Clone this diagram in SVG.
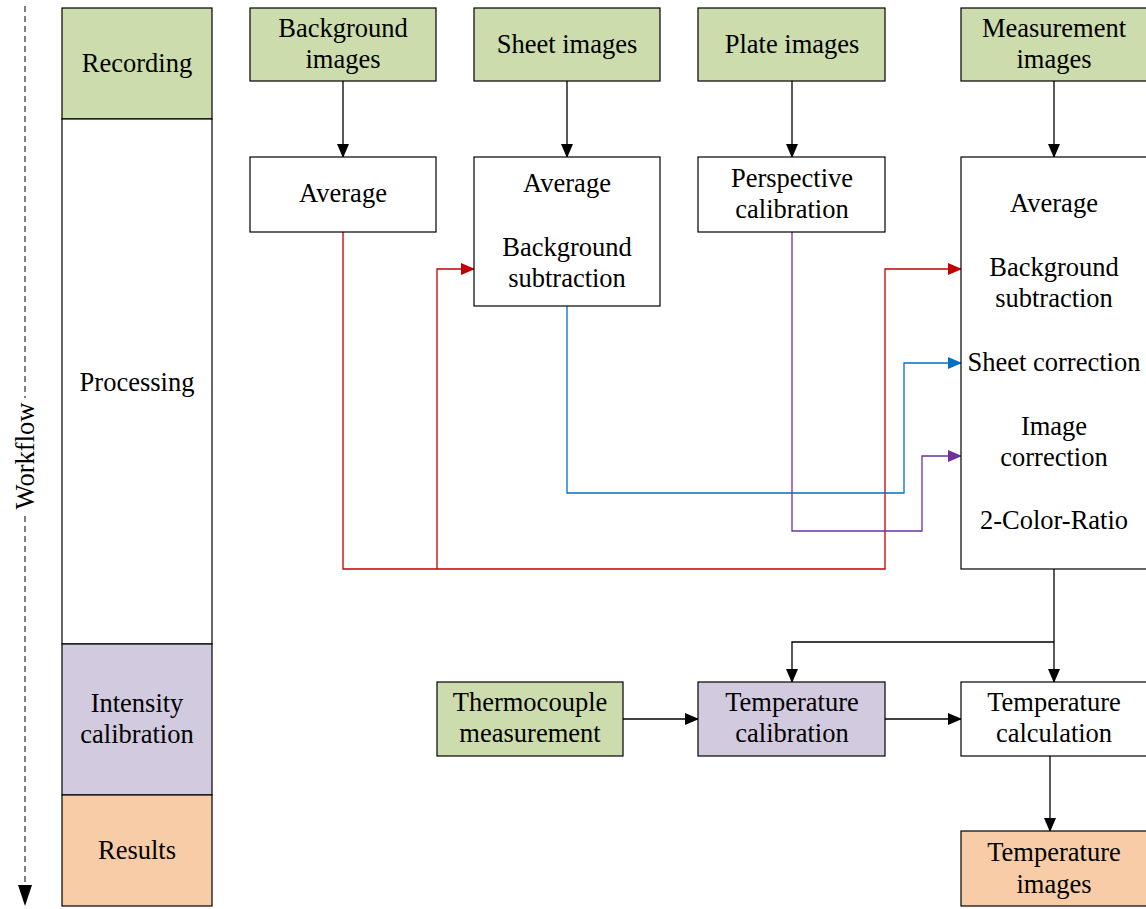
<svg xmlns="http://www.w3.org/2000/svg" width="1146" height="909" viewBox="0 0 1146 909">
<style>
.b{stroke:#000;stroke-width:1.2}
.g{fill:#CCDCAC}.w{fill:#fff}.p{fill:#D2CADF}.o{fill:#F8CCA7}
text{font-family:"Liberation Serif","Times New Roman",serif;font-size:26.5px;fill:#000;text-anchor:middle}
.c{fill:none;stroke-width:1.3}
</style>
<defs>
<marker id="ak" markerWidth="14" markerHeight="12" refX="13" refY="6" orient="auto" markerUnits="userSpaceOnUse"><path d="M0,0L14,6L0,12z" fill="#000"/></marker>
<marker id="ar" markerWidth="14" markerHeight="12" refX="13" refY="6" orient="auto" markerUnits="userSpaceOnUse"><path d="M0,0L14,6L0,12z" fill="#C00000"/></marker>
<marker id="ab" markerWidth="14" markerHeight="12" refX="13" refY="6" orient="auto" markerUnits="userSpaceOnUse"><path d="M0,0L14,6L0,12z" fill="#0070C0"/></marker>
<marker id="ap" markerWidth="14" markerHeight="12" refX="13" refY="6" orient="auto" markerUnits="userSpaceOnUse"><path d="M0,0L14,6L0,12z" fill="#7030A0"/></marker>
</defs>
<rect width="1146" height="909" fill="#fff"/>
<g id="workflow">
<line x1="25" y1="6" x2="25" y2="886" stroke="#808080" stroke-width="2" stroke-dasharray="6,4"/>
<path d="M18,885L32,885L25,906z" fill="#000"/>
<rect x="13" y="398" width="24" height="116" fill="#fff"/>
<text transform="translate(34,456) rotate(-90)">Workflow</text>
</g>
<g id="lane-recording"><rect class="b g" x="62" y="8" width="150" height="111"/><text x="137" y="72">Recording</text></g>
<g id="lane-processing"><rect class="b w" x="62" y="119" width="150" height="525"/><text x="137" y="391">Processing</text></g>
<g id="lane-intensity"><rect class="b p" x="62" y="644" width="150" height="151"/><text x="137" y="712">Intensity</text><text x="137" y="743">calibration</text></g>
<g id="lane-results"><rect class="b o" x="62" y="795" width="150" height="111"/><text x="137" y="859">Results</text></g>

<g id="connectors">
<path class="c" stroke="#000" d="M343,81V157" marker-end="url(#ak)"/>
<path class="c" stroke="#000" d="M567,81V157" marker-end="url(#ak)"/>
<path class="c" stroke="#000" d="M792,81V157" marker-end="url(#ak)"/>
<path class="c" stroke="#000" d="M1054,81V157" marker-end="url(#ak)"/>
<path class="c" stroke="#C00000" d="M343,232V569H885V269H961" marker-end="url(#ar)"/>
<path class="c" stroke="#C00000" d="M437,569V269H474" marker-end="url(#ar)"/>
<path class="c" stroke="#0070C0" d="M567,306V493H904V363H961" marker-end="url(#ab)"/>
<path class="c" stroke="#7030A0" d="M792,232V531H922V456H961" marker-end="url(#ap)"/>
<path class="c" stroke="#000" d="M1054,569V682" marker-end="url(#ak)"/>
<path class="c" stroke="#000" d="M1054,642H792V682" marker-end="url(#ak)"/>
<path class="c" stroke="#000" d="M623,719H698" marker-end="url(#ak)"/>
<path class="c" stroke="#000" d="M885,719H961" marker-end="url(#ak)"/>
<path class="c" stroke="#000" d="M1050,756V831" marker-end="url(#ak)"/>
</g>

<g id="bg-images"><rect class="b g" x="250" y="8" width="186" height="73"/><text x="343" y="37">Background</text><text x="343" y="68">images</text></g>
<g id="sheet-images"><rect class="b g" x="474" y="8" width="186" height="73"/><text x="567" y="53">Sheet images</text></g>
<g id="plate-images"><rect class="b g" x="698" y="8" width="187" height="73"/><text x="792" y="53">Plate images</text></g>
<g id="meas-images"><rect class="b g" x="961" y="8" width="186" height="73"/><text x="1054" y="37">Measurement</text><text x="1054" y="68">images</text></g>

<g id="bg-average"><rect class="b w" x="250" y="157" width="186" height="75"/><text x="343" y="202">Average</text></g>
<g id="sheet-proc"><rect class="b w" x="474" y="157" width="186" height="149"/><text x="567" y="192">Average</text><text x="567" y="256">Background</text><text x="567" y="287">subtraction</text></g>
<g id="persp-cal"><rect class="b w" x="698" y="157" width="187" height="75"/><text x="792" y="187">Perspective</text><text x="792" y="218">calibration</text></g>
<g id="meas-proc"><rect class="b w" x="961" y="157" width="186" height="412"/>
<text x="1054" y="212">Average</text><text x="1054" y="276">Background</text><text x="1054" y="307">subtraction</text>
<text x="1054" y="371">Sheet correction</text><text x="1054" y="435">Image</text><text x="1054" y="466">correction</text><text x="1054" y="529">2-Color-Ratio</text></g>

<g id="thermocouple"><rect class="b g" x="437" y="682" width="186" height="74"/><text x="530" y="711">Thermocouple</text><text x="530" y="742">measurement</text></g>
<g id="temp-cal"><rect class="b p" x="698" y="682" width="187" height="74"/><text x="792" y="711">Temperature</text><text x="792" y="742">calibration</text></g>
<g id="temp-calc"><rect class="b w" x="961" y="682" width="186" height="74"/><text x="1054" y="711">Temperature</text><text x="1054" y="742">calculation</text></g>
<g id="temp-images"><rect class="b o" x="961" y="831" width="186" height="75"/><text x="1054" y="861">Temperature</text><text x="1054" y="893">images</text></g>
</svg>
